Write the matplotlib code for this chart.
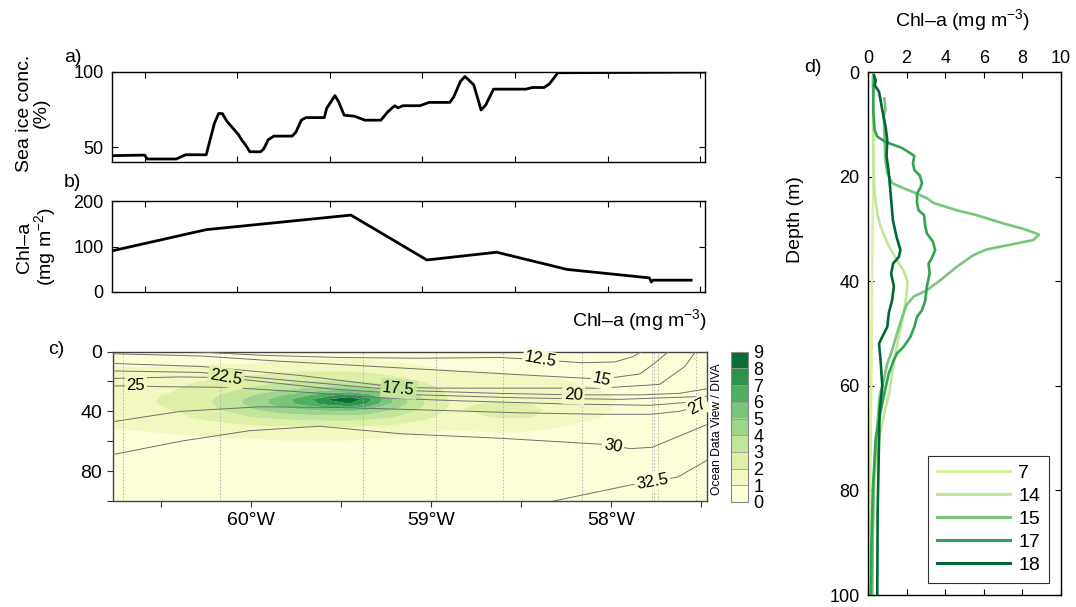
import numpy as np
import matplotlib
matplotlib.use('Agg')
import matplotlib.pyplot as plt
from matplotlib.colors import ListedColormap, BoundaryNorm

plt.rcParams['font.family'] = ['Liberation Sans', 'DejaVu Sans']
plt.rcParams['mathtext.fontset'] = 'custom'
plt.rcParams['mathtext.rm'] = 'Liberation Sans'
plt.rcParams['mathtext.it'] = 'Liberation Sans:italic'
plt.rcParams['mathtext.default'] = 'regular'

# ---------------- Panel a: sea ice concentration along track ----------------
ice_x = [0.648, 1.0, 1.03, 1.342, 1.442, 1.665, 1.754, 1.799, 1.839, 1.888, 2.012, 2.052,
         2.087, 2.136, 2.251, 2.285, 2.335, 2.395, 2.593, 2.633, 2.692, 2.742, 2.940, 2.965,
         3.055, 3.094, 3.154, 3.268, 3.377, 3.551, 3.625, 3.700, 3.734, 3.789, 3.973, 4.072,
         4.295, 4.335, 4.409, 4.459, 4.553, 4.633, 4.682, 4.767, 5.114, 5.189, 5.313, 5.372,
         5.462, 7.050]
ice_pct = [44.4, 44.8, 42.2, 42.2, 45, 45, 66, 72.4, 72.4, 67.3, 58.5, 54.5,
           51.8, 47, 47, 48.8, 55, 57.4, 57.4, 60, 68, 69.7, 69.7, 75.8,
           84.3, 80.3, 71.3, 70.6, 68, 68, 73.5, 77.6, 76.2, 77.6, 77.6, 79.8,
           79.8, 83.2, 93.7, 97, 91.5, 74.7, 78, 88.6, 88.6, 89.7, 89.7, 92.2,
           99.5, 100]

# ---------------- Panel b: integrated Chl-a ----------------
chlint_x = [0.648, 1.665, 3.228, 4.047, 4.801, 5.561, 6.45, 6.47, 6.49, 6.90]
chlint = [90.4, 137, 169, 70.4, 87.4, 49.6, 31, 22, 26, 26]
track_ticks = [1, 2, 3, 4, 5, 6, 7]

# ---------------- Panel c: Chl-a section ----------------
sec_lon = [-60.77, -60.6, -60.45, -60.3, -60.15, -60.0, -59.85, -59.7, -59.55, -59.45, -59.35,
           -59.2, -59.05, -58.9, -58.75, -58.6, -58.45, -58.3, -58.15, -58.0, -57.8, -57.47]
sec_depth = [0, 8, 14, 20, 25, 29, 32, 35, 39, 44, 50, 57, 65, 80, 100]
sec_chl_cols = [
    [0.3, 0.8, 1.3, 1.5, 1.6, 1.7, 1.7, 1.7, 1.6, 1.4, 1.1, 0.7, 0.4, 0.2, 0.1],
    [0.3, 0.8, 1.3, 1.6, 1.8, 1.9, 1.9, 1.9, 1.8, 1.5, 1.2, 0.8, 0.4, 0.2, 0.1],
    [0.3, 0.8, 1.4, 1.7, 1.9, 2.05, 2.1, 2.1, 2.0, 1.7, 1.3, 0.9, 0.5, 0.2, 0.1],
    [0.3, 0.9, 1.6, 2.0, 2.3, 2.5, 2.6, 2.6, 2.5, 2.1, 1.5, 1.0, 0.5, 0.2, 0.1],
    [0.4, 1.0, 1.7, 2.2, 2.7, 3.1, 3.3, 3.3, 3.1, 2.5, 1.7, 1.1, 0.5, 0.2, 0.1],
    [0.4, 1.0, 1.8, 2.5, 3.2, 3.9, 4.3, 4.3, 3.9, 3.0, 1.9, 1.1, 0.5, 0.2, 0.1],
    [0.5, 1.2, 2.0, 2.8, 3.7, 4.8, 5.4, 5.4, 4.6, 3.3, 2.0, 1.2, 0.6, 0.2, 0.1],
    [0.5, 1.3, 2.1, 3.0, 4.2, 5.8, 6.6, 6.4, 5.0, 3.5, 2.1, 1.2, 0.6, 0.2, 0.1],
    [0.5, 1.3, 2.1, 3.1, 4.5, 6.8, 8.2, 7.6, 5.3, 3.6, 2.1, 1.2, 0.6, 0.2, 0.1],
    [0.5, 1.3, 2.1, 3.1, 4.6, 7.2, 8.8, 8.0, 5.4, 3.6, 2.1, 1.2, 0.6, 0.2, 0.1],
    [0.5, 1.2, 2.0, 2.9, 4.2, 6.3, 7.4, 6.9, 5.0, 3.4, 2.0, 1.1, 0.5, 0.2, 0.1],
    [0.4, 1.1, 1.7, 2.5, 3.4, 4.5, 4.8, 4.7, 4.0, 3.0, 1.8, 1.0, 0.5, 0.2, 0.1],
    [0.3, 0.9, 1.4, 2.0, 2.5, 2.9, 3.1, 3.1, 2.9, 2.3, 1.5, 0.9, 0.4, 0.2, 0.1],
    [0.3, 0.7, 1.1, 1.5, 1.8, 1.9, 2.0, 2.0, 1.9, 1.6, 1.2, 0.7, 0.4, 0.2, 0.1],
    [0.2, 0.6, 1.0, 1.4, 1.6, 1.8, 1.9, 2.0, 2.1, 1.9, 1.3, 0.7, 0.4, 0.2, 0.1],
    [0.2, 0.6, 1.0, 1.4, 1.6, 1.8, 1.9, 2.1, 2.3, 2.1, 1.4, 0.8, 0.4, 0.2, 0.1],
    [0.2, 0.5, 0.9, 1.3, 1.5, 1.7, 1.9, 2.0, 2.2, 2.05, 1.3, 0.7, 0.4, 0.2, 0.1],
    [0.2, 0.5, 0.8, 1.1, 1.3, 1.5, 1.6, 1.7, 1.8, 1.6, 1.1, 0.6, 0.3, 0.2, 0.1],
    [0.2, 0.4, 0.6, 0.9, 1.1, 1.2, 1.3, 1.3, 1.3, 1.2, 0.8, 0.5, 0.3, 0.2, 0.1],
    [0.2, 0.3, 0.5, 0.7, 0.9, 1.0, 1.05, 1.05, 1.0, 0.9, 0.6, 0.4, 0.3, 0.2, 0.1],
    [0.2, 0.3, 0.4, 0.5, 0.6, 0.7, 0.7, 0.7, 0.7, 0.6, 0.5, 0.4, 0.3, 0.2, 0.1],
    [0.2, 0.3, 0.4, 0.5, 0.5, 0.6, 0.6, 0.6, 0.6, 0.5, 0.4, 0.3, 0.2, 0.2, 0.1],
]
station_lon = [-60.71, -60.17, -59.38, -58.97, -58.60, -58.16, -57.77, -57.76, -57.74, -57.53]

iso_levels = ['12.5', '15', '17.5', '20', '22.5', '25', '27.5', '30', '32.5']
iso_lon = [
    [-60.34, -59.95, -59.51, -59.06, -58.62, -58.39, -58.17, -57.98, -57.88, -57.83],
    [-60.77, -60.28, -59.84, -59.39, -58.95, -58.51, -58.05, -57.84, -57.76, -57.68],
    [-60.77, -60.28, -59.73, -59.39, -59.18, -58.95, -58.51, -58.06, -57.73, -57.59, -57.53],
    [-60.77, -60.28, -59.73, -59.17, -58.62, -58.21, -57.84, -57.62, -57.47],
    [-60.77, -60.39, -60.14, -59.95, -59.56, -59.06, -58.51, -57.95, -57.47],
    [-60.77, -60.64, -60.51, -60.12, -59.73, -59.28, -58.84, -58.28, -57.78, -57.47],
    [-60.77, -60.39, -59.95, -59.51, -59.06, -58.51, -58.06, -57.78, -57.62, -57.52, -57.47],
    [-60.77, -60.39, -60.01, -59.62, -59.17, -58.62, -58.06, -57.89, -57.77, -57.63, -57.47],
    [-58.32, -57.88, -57.77, -57.63, -57.47],
]
iso_depth = [
    [0, 2.5, 4, 4.5, 4, 5.5, 7.5, 7, 3.5, 0],
    [1.5, 3, 6.5, 9.5, 12.5, 15.5, 18.5, 15, 8, 0],
    [8, 10, 16, 21, 24, 24.5, 24.5, 24.5, 22, 10, 0],
    [13, 14, 20, 26, 28, 29, 29, 28, 25],
    [18, 17, 17.5, 20, 25, 29, 31, 32, 30],
    [23, 23, 23.5, 24, 27, 31, 33, 35, 36, 33],
    [47, 40, 37, 37.5, 39, 41, 42, 42, 40, 37, 34],
    [69, 60, 53, 50, 55, 58, 62, 65, 64, 57, 49],
    [100, 89, 87, 84, 73],
]
iso_label_text = ['12.5', '15', '17.5', '20', '22.5', '25', '27', '30', '32.5']
iso_label_lon = [-58.39, -58.05, -59.18, -58.21, -60.14, -60.64, -57.52, -57.99, -57.77]
iso_label_depth = [5.5, 18.5, 25, 29, 17.5, 23, 37, 63, 87]
iso_label_rot = [-10, -12, -5, -3, -10, 0, 28, -10, 10]

cbar_levels = [0, 1, 2, 3, 4, 5, 6, 7, 8, 9]
cbar_colors = ['#fdfed8', '#f3f8c0', '#dff0a6', '#c2e59a', '#9fd58a',
               '#78c679', '#4eae62', '#2b934a', '#0b6c36']

# ---------------- Panel d: Chl-a profiles ----------------
prof_names = ['7', '14', '15', '17', '18']
prof_colors = ['#d9f0a3', '#c2e699', '#78c679', '#31a354', '#006837']
p7_chl = [0.22, 0.28, 0.31, 0.30, 0.27, 0.23, 0.21, 0.19, 0.17, 0.14, 0.12, 0.10]
p7_dep = [1, 5, 10, 16, 23, 30, 40, 50, 60, 70, 85, 100]
p14_chl = [0.25, 0.27, 0.27, 0.30, 0.34, 0.48, 0.65, 1.0, 1.5, 1.85, 2.05, 2.0, 1.85, 1.6,
           1.42, 1.25, 1.13, 0.86, 0.5, 0.34, 0.25, 0.2]
p14_dep = [1, 8, 14, 20, 23, 27, 29.5, 32.7, 36, 38, 40, 42.3, 46.1, 50.6,
           53.8, 57.6, 60.8, 65, 71.5, 78, 88, 100]
p15_chl = [0.85, 0.88, 0.9, 0.82, 0.85, 0.9, 1.0, 1.25, 1.85, 2.54, 3.05, 3.4, 4.6, 5.6, 7.0,
           8.0, 8.7, 8.86, 8.55, 7.34, 6.14, 5.45, 4.6, 3.74, 3.05, 2.37, 2.0, 1.77, 1.5,
           1.25, 1.0, 0.82, 0.6, 0.4, 0.3, 0.25, 0.22]
p15_dep = [5, 6, 7.2, 8.5, 12, 16.8, 19.3, 21.2, 22.2, 23.2, 24.1, 25, 26.4, 27.3, 28.9,
           29.9, 30.8, 31.1, 32.1, 33, 33.9, 35, 37.2, 39.8, 41.7, 42.9, 44.5, 46.8, 50,
           53.2, 55.7, 58.9, 62, 71.5, 78, 88, 100]
p17_chl = [0.3, 0.28, 0.27, 0.34, 0.48, 0.9, 1.34, 1.77, 2.2, 2.4, 2.33, 2.4, 2.68, 2.8, 2.7,
           2.54, 2.54, 2.62, 2.9, 2.97, 3.05, 3.36, 3.48, 3.3, 3.14, 3.19, 3.05, 2.97, 2.8,
           2.54, 2.4, 2.2, 1.85, 1.5, 1.34, 1.08, 0.9, 0.7, 0.4, 0.25, 0.18, 0.15]
p17_dep = [1, 4, 7.2, 11, 12.3, 13.3, 13.9, 14.5, 15.5, 16, 17.4, 18.7, 19.7, 21.2, 22.2,
           23.2, 25, 26.4, 27.3, 29.5, 30.8, 32.4, 34, 35.6, 36.6, 38.5, 41, 43.6, 45.5,
           46.8, 48.7, 50.6, 52.5, 53.8, 55, 57.6, 60.5, 64, 70, 80, 90, 100]
p18_chl = [0.3, 0.4, 0.35, 0.57, 0.74, 0.91, 1.0, 0.96, 1.08, 1.2, 1.29, 1.48, 1.68, 1.6, 1.3,
           1.2, 1.34, 1.25, 1.08, 1.0, 0.74, 0.57, 0.65, 0.74, 0.6, 0.55, 0.5, 0.48]
p18_dep = [0.5, 1.5, 2.5, 3.7, 7.2, 10.4, 13, 16, 19.3, 24.4, 28.3, 31.5, 34, 35.3, 36.6,
           38.5, 41, 43.6, 46, 48.7, 50.6, 51.9, 55, 60, 65, 74.7, 84, 100]
prof_chl = [p7_chl, p14_chl, p15_chl, p17_chl, p18_chl]
prof_dep = [p7_dep, p14_dep, p15_dep, p17_dep, p18_dep]

# ---------------- Figure ----------------
W, H = 1076, 607
fig = plt.figure(figsize=(W / 100, H / 100), dpi=100)


def box(l, t, r, b):
    return [l / W, 1 - b / H, (r - l) / W, (b - t) / H]


TICK = 13
LAB = 14


def matlab_style(ax):
    ax.tick_params(direction='in', top=True, right=True, length=4, width=0.8,
                   labelsize=TICK, pad=6)
    for s in ax.spines.values():
        s.set_linewidth(1.0)


# Panel a
axa = fig.add_axes(box(112, 72, 705, 161.7))
axa.plot(ice_x, ice_pct, color='black', lw=2.0, solid_joinstyle='round')
axa.set_xlim(0.648, 7.05)
axa.set_ylim(40.4, 100)
axa.set_xticks(track_ticks)
axa.set_xticklabels([])
axa.set_yticks([50, 100])
matlab_style(axa)

# Panel b
axb = fig.add_axes(box(112, 201, 705, 292))
axb.plot(chlint_x, chlint, color='black', lw=2.0, solid_joinstyle='round')
axb.set_xlim(0.648, 7.05)
axb.set_ylim(0, 200)
axb.set_xticks(track_ticks)
axb.set_xticklabels([])
axb.set_yticks([0, 100, 200])
matlab_style(axb)

fig.text(33 / W, 1 - 113 / H, 'Sea ice conc.\n(%)', rotation=90, ha='center', va='center',
         fontsize=LAB, linespacing=1.0, multialignment='center')
fig.text(37 / W, 1 - 247 / H, 'Chl\u2013a\n(mg m$^{-2}$)', rotation=90, ha='center',
         va='center', fontsize=LAB, linespacing=1.0, multialignment='center')
fig.text(640 / W, 1 - 320 / H, 'Chl\u2013a (mg m$^{-3}$)', ha='center', va='center',
         fontsize=LAB)

# Panel c
axc = fig.add_axes(box(113, 351.5, 707, 501))
cmap = ListedColormap(cbar_colors)
norm = BoundaryNorm(cbar_levels, cmap.N)
Z = np.array(sec_chl_cols).T
cf = axc.contourf(sec_lon, sec_depth, Z, levels=cbar_levels, cmap=cmap, norm=norm,
                  antialiased=True)
for lon in station_lon:
    axc.axvline(lon, color='#b0b0b0', lw=0.6, ls=(0, (2, 2)), zorder=2)
for lons, deps in zip(iso_lon, iso_depth):
    axc.plot(lons, deps, color='#707070', lw=0.7, zorder=3)
for txt, lo, de, rot in zip(iso_label_text, iso_label_lon, iso_label_depth, iso_label_rot):
    i = int(np.argmin(np.abs(np.array(sec_depth) - de)))
    j = int(np.argmin(np.abs(np.array(sec_lon) - lo)))
    fc = cmap(norm(Z[i, j]))
    axc.text(lo, de, txt, ha='center', va='center', rotation=rot, fontsize=12, zorder=4,
             bbox=dict(boxstyle='square,pad=0.12', fc=fc, ec='none'))
axc.set_xlim(-60.767, -57.467)
axc.set_ylim(100, 0)
axc.set_xticks([-60, -59, -58])
axc.set_xticklabels(['60\u00b0W', '59\u00b0W', '58\u00b0W'])
axc.set_xticks([-60.5, -59.5, -58.5, -57.5], minor=True)
axc.set_yticks([0, 40, 80])
axc.set_yticks([20, 60, 100], minor=True)
axc.tick_params(which='both', direction='out', length=4, width=0.8, labelsize=LAB,
                pad=4, color='#333333')
for s in axc.spines.values():
    s.set_color('#444444')
    s.set_linewidth(1.0)

# Colorbar
cax = fig.add_axes(box(730.7, 351.7, 747.7, 502))
cb = fig.colorbar(cf, cax=cax, ticks=cbar_levels, drawedges=True)
cb.outline.set_edgecolor('#888888')
cb.outline.set_linewidth(0.8)
cb.dividers.set_color('#999999')
cb.dividers.set_linewidth(0.6)
cax.tick_params(length=0, labelsize=13, pad=4)
fig.text(717 / W, 1 - 429 / H, 'Ocean Data View / DIVA', rotation=90, ha='center',
         va='center', fontsize=8.7)

# Panel d
axd = fig.add_axes(box(868, 72.3, 1061, 595))
for name, col, xs, ds in zip(prof_names, prof_colors, prof_chl, prof_dep):
    axd.plot(xs, ds, color=col, lw=1.9, label=name, solid_joinstyle='round')
axd.set_xlim(0, 10)
axd.set_ylim(100, 0)
axd.set_xticks([0, 2, 4, 6, 8, 10])
axd.set_yticks([0, 20, 40, 60, 80, 100])
matlab_style(axd)
axd.tick_params(labeltop=True, labelbottom=False)
axd.tick_params(axis='x', pad=4)
leg = axd.legend(loc='lower right', bbox_to_anchor=(0.938, 0.023), fontsize=LAB,
                 frameon=True, fancybox=False, edgecolor='black', handlelength=3.75,
                 handletextpad=0.45, labelspacing=0.28, borderpad=0.45,
                 borderaxespad=0)
leg.get_frame().set_linewidth(0.8)
for ln in leg.get_lines():
    ln.set_linewidth(2.2)
fig.text(795 / W, 1 - 220 / H, 'Depth (m)', rotation=90, ha='center', va='center',
         fontsize=LAB)
fig.text(963 / W, 1 - 20 / H, 'Chl\u2013a (mg m$^{-3}$)', ha='center', va='center',
         fontsize=LAB)

# Panel letters
fig.text(73 / W, 1 - 57 / H, 'a)', ha='center', va='center', fontsize=LAB)
fig.text(72 / W, 1 - 183 / H, 'b)', ha='center', va='center', fontsize=LAB)
fig.text(56 / W, 1 - 350 / H, 'c)', ha='center', va='center', fontsize=LAB)
fig.text(813 / W, 1 - 68 / H, 'd)', ha='center', va='center', fontsize=LAB)

fig.savefig('out.png', dpi=100)
